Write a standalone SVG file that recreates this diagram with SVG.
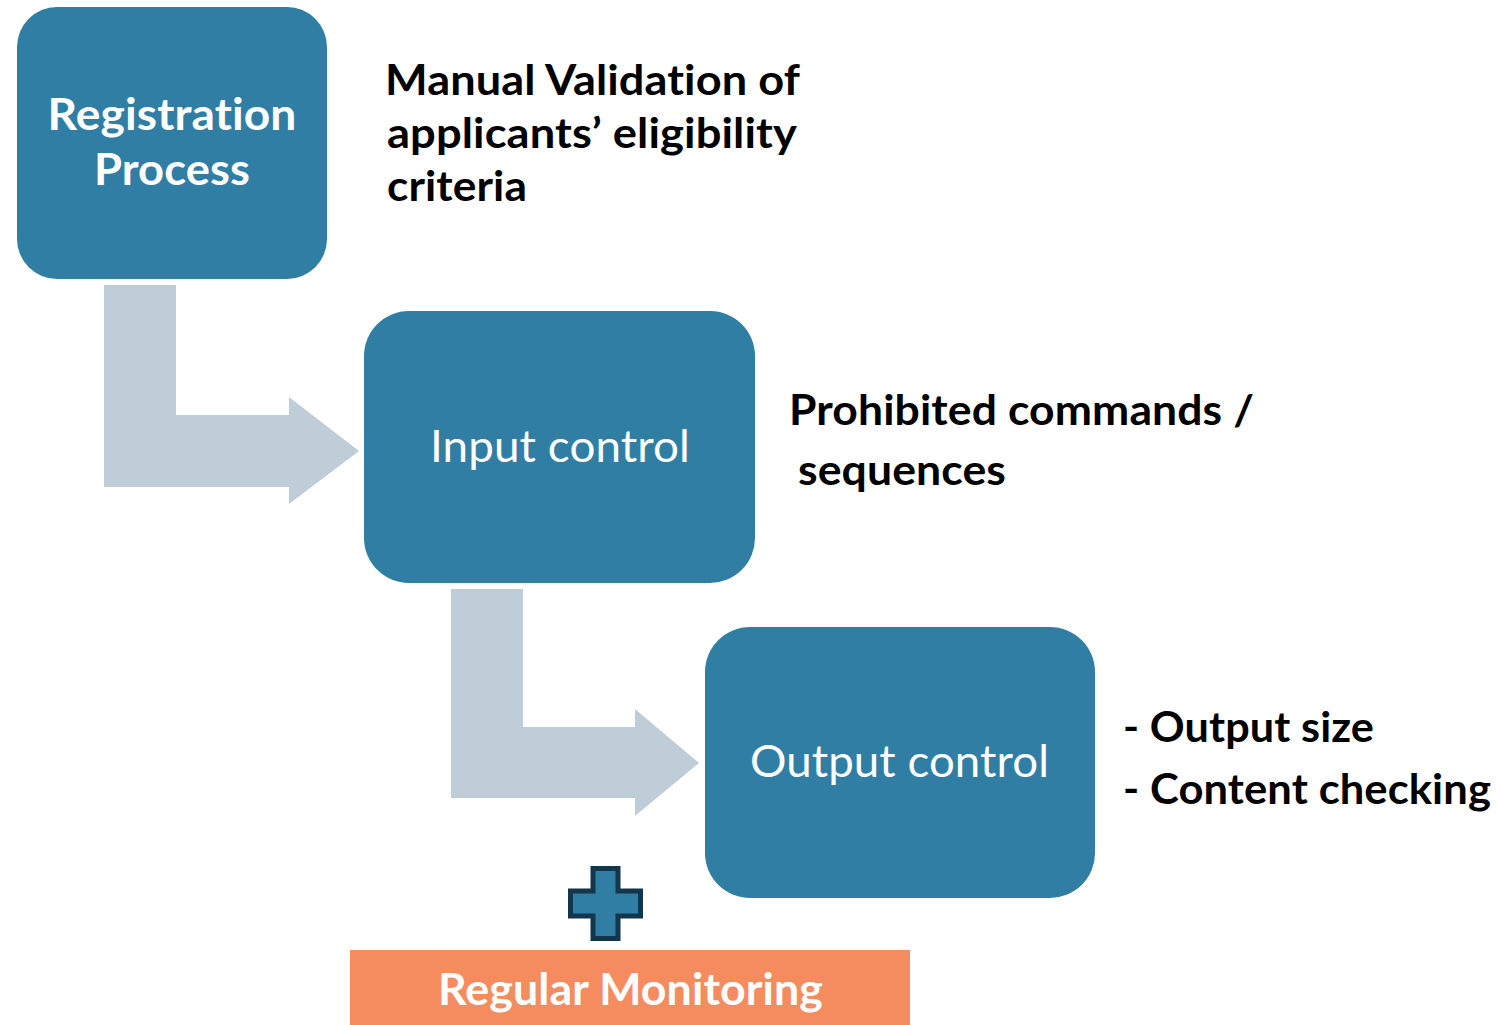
<svg xmlns="http://www.w3.org/2000/svg" width="1501" height="1025" viewBox="0 0 1501 1025">
  <style>
    /* small tracking keeps the glyphs separate (no t-i ligatures) */
    text { font-variant-ligatures: none; font-feature-settings: "liga" 0, "dlig" 0; letter-spacing: 0.1px; }
    .box { fill: #307EA4; }
    .flow { fill: #BFCDD8; }
    .boxlabel { font-family: Lato, "Open Sans", sans-serif; fill: #FFFFFF; }
    .note { font-family: Lato, "Open Sans", sans-serif; font-weight: 700; font-size: 42px; fill: #000000; }
    .bold { font-weight: 700; }
  </style>
  <rect width="1501" height="1025" fill="#FFFFFF"/>

  <!-- bent flow arrows between the stages -->
  <g id="connectors">
    <path class="flow" d="M104,285 H176 V415 H289 V397 L359,451 L289,504 V487 H104 Z"/>
    <path class="flow" d="M451,589 H523 V727 H635 V709 L699,763 L635,816 V798 H451 Z"/>
  </g>

  <g id="registration">
    <rect class="box" x="17" y="7" width="310" height="272" rx="40" ry="40"/>
    <text class="boxlabel bold" font-size="44" x="172" y="130" text-anchor="middle" textLength="249" lengthAdjust="spacingAndGlyphs">Registration</text>
    <text class="boxlabel bold" font-size="44" x="172" y="185" text-anchor="middle" textLength="156" lengthAdjust="spacingAndGlyphs">Process</text>
  </g>

  <g id="registration-note">
    <text class="note" x="385" y="95" textLength="415" lengthAdjust="spacingAndGlyphs">Manual Validation of</text>
    <text class="note" x="387" y="148" textLength="410" lengthAdjust="spacingAndGlyphs">applicants’ eligibility</text>
    <text class="note" x="387" y="201" textLength="140" lengthAdjust="spacingAndGlyphs">criteria</text>
  </g>

  <g id="input-control">
    <rect class="box" x="364" y="311" width="391" height="272" rx="45" ry="45"/>
    <text class="boxlabel" font-size="45" x="430" y="462" textLength="260" lengthAdjust="spacingAndGlyphs">Input control</text>
  </g>

  <g id="input-note">
    <text class="note" x="789" y="425" textLength="465" lengthAdjust="spacingAndGlyphs">Prohibited commands /</text>
    <text class="note" x="798" y="485" textLength="208" lengthAdjust="spacingAndGlyphs">sequences</text>
  </g>

  <g id="output-control">
    <rect class="box" x="705" y="627" width="390" height="271" rx="45" ry="45"/>
    <text class="boxlabel" font-size="45" x="750" y="777" textLength="299" lengthAdjust="spacingAndGlyphs">Output control</text>
  </g>

  <g id="output-note">
    <text class="note" x="1123" y="742" textLength="251" lengthAdjust="spacingAndGlyphs">- Output size</text>
    <text class="note" x="1123" y="804" textLength="368" lengthAdjust="spacingAndGlyphs">- Content checking</text>
  </g>

  <g id="plus">
    <path d="M593,868.5 H618 V891 H640.5 V916 H618 V938.5 H593 V916 H570.5 V891 H593 Z" fill="#307EA4" stroke="#12364B" stroke-width="5" stroke-linejoin="miter"/>
  </g>

  <g id="regular-monitoring">
    <rect x="350" y="950" width="560" height="75" fill="#F58C5F"/>
    <text class="boxlabel bold" font-size="44" x="438" y="1005" textLength="385" lengthAdjust="spacingAndGlyphs">Regular Monitoring</text>
  </g>
</svg>
